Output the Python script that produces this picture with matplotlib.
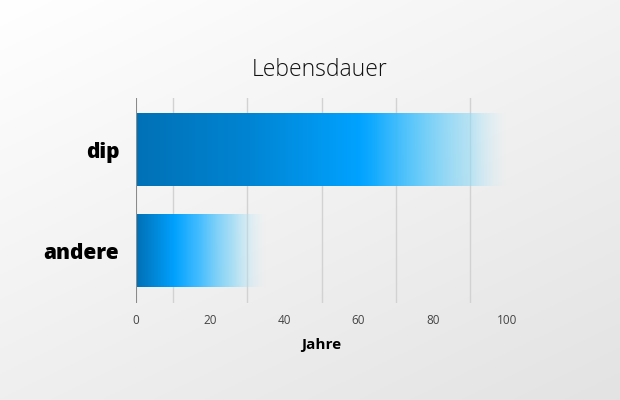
import numpy as np
import matplotlib
matplotlib.use("Agg")
from matplotlib import pyplot as plt
from matplotlib.colors import to_rgb

categories = ["dip", "andere"]
values = [100, 35]
x_ticks = [0, 20, 40, 60, 80, 100]
grid_lines = [10, 30, 50, 70, 90]

# colour stops per bar: (fraction of bar length, colour, alpha)
stops = {
    "dip": [(0.0, "#0071b6", 1), (0.3, "#0084d2", 1), (0.6, "#00a2ff", 1),
            (0.64, "#12abff", 1), (0.75, "#4fc4fb", 0.9), (0.9, "#8fd9f5", 0.6),
            (1.0, "#c8ecf8", 0.0)],
    "andere": [(0.0, "#006fb4", 1), (0.3, "#00a2ff", 1), (0.5, "#40bcff", 0.95),
               (0.75, "#8fd8f6", 0.7), (1.0, "#d0eef8", 0.0)],
}


def gradient_row(name, n=400):
    t = np.linspace(0, 1, n)
    pos = [s[0] for s in stops[name]]
    rgb = np.array([to_rgb(s[1]) for s in stops[name]])
    a = [s[2] for s in stops[name]]
    row = np.zeros((1, n, 4))
    for c in range(3):
        row[0, :, c] = np.interp(t, pos, rgb[:, c])
    row[0, :, 3] = np.interp(t, pos, a)
    return row


fig = plt.figure(figsize=(6.2, 4), dpi=100)

# background gradient
bg = fig.add_axes([0, 0, 1, 1], zorder=-10)
yy, xx = np.mgrid[0:1:200j, 0:1:300j]
d = np.clip((xx * 0.6 + yy * 0.8) / 1.4, 0, 1)
shade = 1.0 - 0.11 * d
bg.imshow(np.dstack([shade, shade, shade]), extent=[0, 1, 0, 1], aspect="auto", origin="upper")
bg.axis("off")

ax = fig.add_axes([136 / 620, 97 / 400, 371 / 620, 205 / 400])
ax.patch.set_alpha(0)
ax.set_xlim(0, 100)
ax.set_ylim(1.515, -0.515)

h = 0.72
for i, (cat, val) in enumerate(zip(categories, values)):
    ax.imshow(gradient_row(cat), extent=[0, val, i + h / 2, i - h / 2],
              aspect="auto", zorder=3, interpolation="bilinear")

for g in grid_lines:
    ax.axvline(g, color="#d2d2d2", lw=1, zorder=1)
ax.axvline(0, color="#8a8a8a", lw=1.5, zorder=4)

for s in ax.spines.values():
    s.set_visible(False)

ax.set_xticks(x_ticks)
ax.set_xticklabels([str(v) for v in x_ticks], fontsize=8.5, color="#444444", family="Open Sans")
ax.tick_params(axis="x", length=0, pad=8)
ax.set_yticks(range(len(categories)))
ax.set_yticklabels(categories, fontsize=15, fontweight="heavy", color="black", family="Open Sans")
ax.tick_params(axis="y", length=0, pad=12)

ax.set_xlabel("Jahre", fontsize=11, fontweight="bold", color="black", family="Open Sans", labelpad=8)
fig.text(0.516, 0.825, "Lebensdauer", ha="center", va="center", fontsize=16.5,
         color="#111111", family="Open Sans", fontweight="light")

fig.savefig("out.png", dpi=100)
